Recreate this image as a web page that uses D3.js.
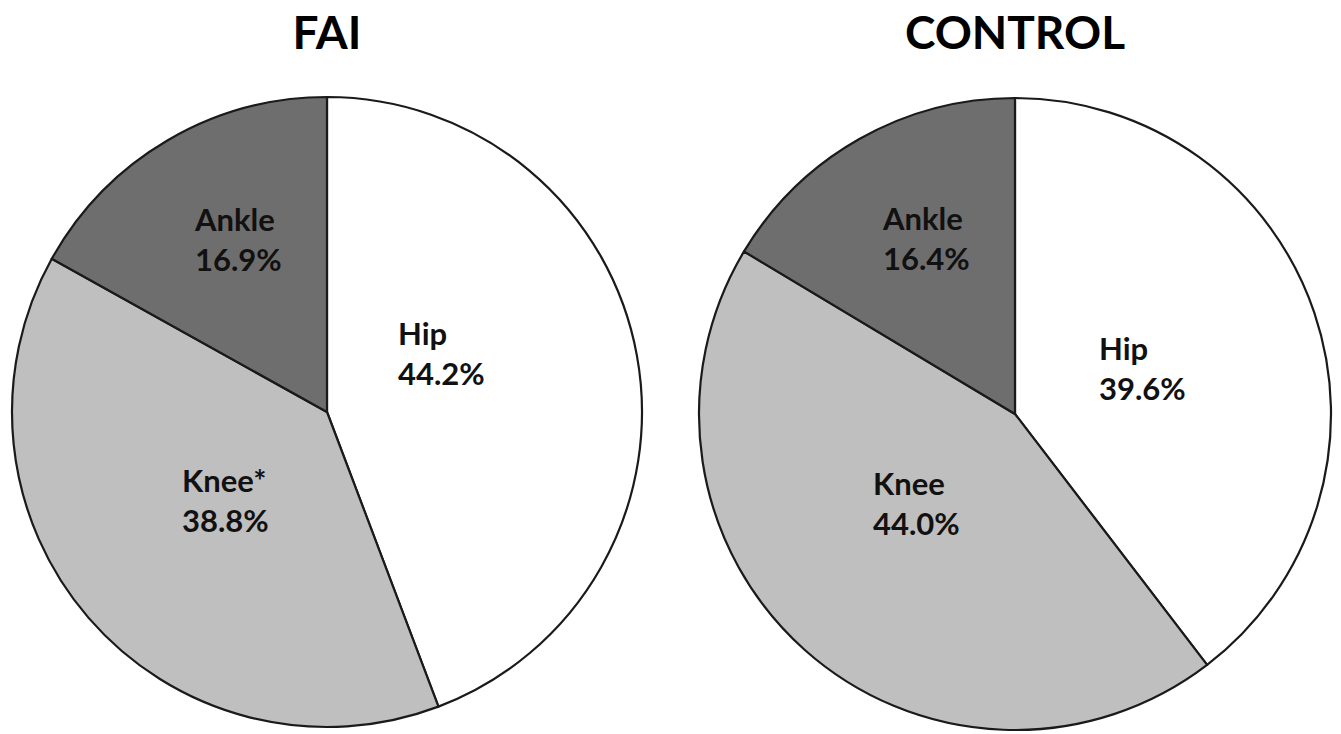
<!DOCTYPE html>
<html>
<head>
<meta charset="utf-8">
<script src="https://cdn.jsdelivr.net/npm/d3@7"></script>
<style>
  html, body { margin: 0; padding: 0; background: #fff; }
  svg { display: block; }
  .title { font-family: Lato, "Open Sans", sans-serif; font-weight: 700; font-size: 46px; fill: #000; }
  .lbl { font-family: Lato, "Open Sans", sans-serif; font-weight: 700; font-size: 31px; fill: #111; }
</style>
</head>
<body>
<svg id="chart" width="1341" height="734"></svg>
<script>
// Share of joint injuries by group
const categories = ["Hip", "Knee", "Ankle"];
const groups = ["FAI", "CONTROL"];
const faiValues = [44.2, 38.8, 16.9];
const controlValues = [39.6, 44.0, 16.4];
const faiLabels = ["Hip", "Knee*", "Ankle"];
const controlLabels = ["Hip", "Knee", "Ankle"];

const fills = d3.scaleOrdinal().domain(categories).range(["#ffffff", "#bfbfbf", "#6e6e6e"]);

const svg = d3.select("#chart");

const panels = [
  { title: groups[0], values: faiValues, labels: faiLabels, cx: 327, cy: 412, r: 315,
    labelPos: [[398, 345], [182, 492], [195, 231]] },
  { title: groups[1], values: controlValues, labels: controlLabels, cx: 1015, cy: 414, r: 316,
    labelPos: [[1099, 360], [873, 495], [883, 230]] }
];

const pie = d3.pie().sort(null).value(d => d.value);

panels.forEach(p => {
  const data = categories.map((c, i) => ({ cat: c, value: p.values[i], label: p.labels[i], pos: p.labelPos[i] }));
  const arc = d3.arc().innerRadius(0).outerRadius(p.r);
  const g = svg.append("g").attr("transform", `translate(${p.cx},${p.cy})`);

  g.selectAll("path")
    .data(pie(data))
    .join("path")
    .attr("d", arc)
    .attr("fill", d => fills(d.data.cat))
    .attr("stroke", "#1a1a1a")
    .attr("stroke-width", 2.2)
    .attr("stroke-linejoin", "round");

  svg.append("text")
    .attr("class", "title")
    .attr("x", p.cx)
    .attr("y", 49)
    .attr("text-anchor", "middle")
    .text(p.title);

  const lg = svg.append("g");
  data.forEach(d => {
    const t = lg.append("text").attr("class", "lbl").attr("x", d.pos[0]).attr("y", d.pos[1]);
    t.append("tspan").attr("x", d.pos[0]).text(d.label);
    t.append("tspan").attr("x", d.pos[0]).attr("dy", 40).text(d.value.toFixed(1) + "%");
  });
});
</script>
</body>
</html>
